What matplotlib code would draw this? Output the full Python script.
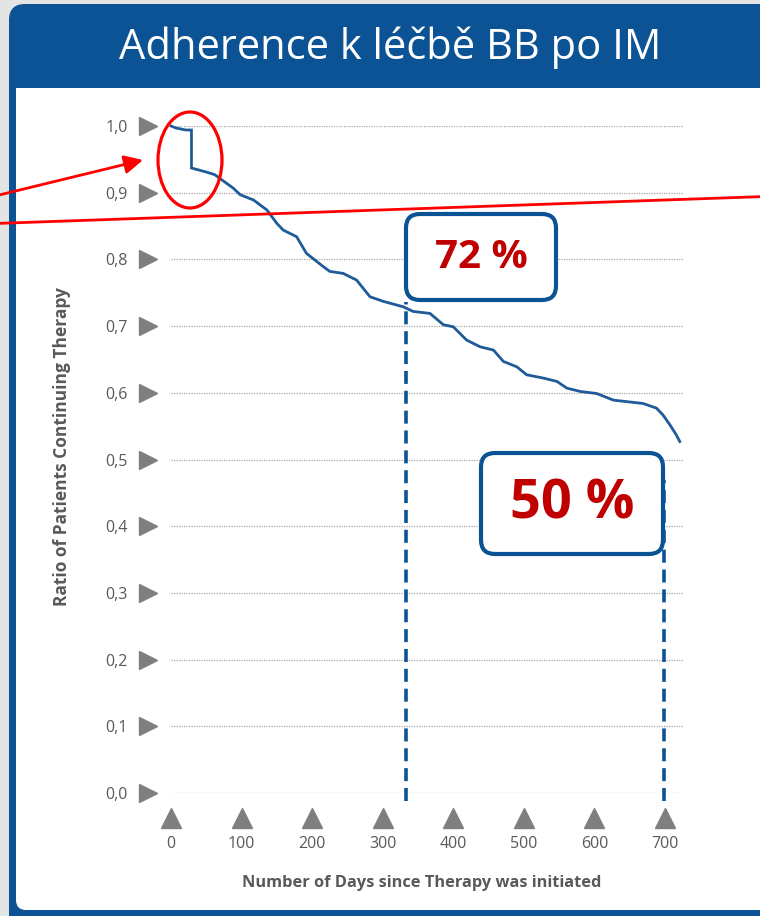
import matplotlib
matplotlib.use("Agg")
import matplotlib.pyplot as plt
from matplotlib.patches import FancyBboxPatch, Ellipse, Rectangle

plt.rcParams["font.family"] = ["Open Sans", "DejaVu Sans"]

# curve (the drop at day 29 is listed twice)
days = [0, 7, 21, 29, 29, 50, 62, 88, 98, 117, 136, 150, 159, 178, 192, 216, 225,
        244, 263, 282, 301, 329, 343, 367, 386, 400, 419, 438, 457, 471, 490,
        504, 528, 547, 561, 580, 603, 627, 669, 688, 697, 707, 716, 721]
ratio = [1.000, 0.997, 0.994, 0.994, 0.937, 0.931, 0.927, 0.907, 0.897, 0.889, 0.874,
         0.854, 0.844, 0.834, 0.809, 0.789, 0.782, 0.779, 0.769, 0.744, 0.737,
         0.729, 0.722, 0.719, 0.702, 0.699, 0.679, 0.669, 0.664, 0.647, 0.639,
         0.627, 0.622, 0.617, 0.607, 0.602, 0.599, 0.589, 0.584, 0.577, 0.567,
         0.552, 0.537, 0.527]

y_ticks = [0.0, 0.1, 0.2, 0.3, 0.4, 0.5, 0.6, 0.7, 0.8, 0.9, 1.0]
y_labels = ["0,0", "0,1", "0,2", "0,3", "0,4", "0,5", "0,6", "0,7", "0,8", "0,9", "1,0"]
x_ticks = [0, 100, 200, 300, 400, 500, 600, 700]

# dashed reference lines and their callouts
marker_days = [333, 699]
marker_tops = [0.736, 0.47]
callouts = ["72 %", "50 %"]

blue = "#0b5394"
gray_txt = "#595959"
gray_tri = "#7f7f7f"

fig = plt.figure(figsize=(7.6, 9.16), dpi=100)
fig.patch.set_facecolor("#e4e4e4")

# background panel
bg = fig.add_axes([0, 0, 1, 1], zorder=0)
bg.set_xlim(0, 760)
bg.set_ylim(916, 0)
bg.axis("off")
bg.add_patch(FancyBboxPatch((9, 4), 820, 930, boxstyle="round,pad=0,rounding_size=16",
                            fc=blue, ec="none"))
bg.add_patch(FancyBboxPatch((16, 88), 820, 822, boxstyle="round,pad=0,rounding_size=10",
                            fc="white", ec="none"))
bg.add_patch(Rectangle((16, 88), 820, 40, fc="white", ec="none"))
bg.text(390, 48, "Adherence k léčbě BB po IM", color="white", fontsize=30,
        ha="center", va="center")

# main chart
ax = fig.add_axes([171 / 760, 123 / 916, 511.6 / 760, 667 / 916], zorder=1)
ax.patch.set_visible(False)
ax.set_xlim(0, 725)
ax.set_ylim(0, 1.0)
for s in ax.spines.values():
    s.set_visible(False)

ax.set_yticks(y_ticks)
ax.set_yticklabels(y_labels)
ax.set_xticks(x_ticks)
ax.tick_params(axis="y", length=0, pad=31, labelsize=11.5, labelcolor=gray_txt)
ax.tick_params(axis="x", length=0, pad=31, labelsize=11.5, labelcolor=gray_txt)
ax.yaxis.grid(True, linestyle=(0, (1, 1)), color="#a6a6a6", lw=0.9)
ax.xaxis.grid(False)

# triangle tick marks
ax.plot([-0.045] * len(y_ticks), y_ticks, ">", ms=13, color=gray_tri,
        transform=ax.get_yaxis_transform(), clip_on=False)
ax.plot(x_ticks, [-0.0375] * len(x_ticks), "^", ms=14, color=gray_tri,
        transform=ax.get_xaxis_transform(), clip_on=False)

ax.plot(days, ratio, color="#1f5b98", lw=2.0, solid_joinstyle="miter",
        clip_on=False, zorder=3)

ax.vlines(marker_days, -0.012, marker_tops, colors=blue, lw=2.6,
          linestyles=[(0, (3.6, 1.9))], clip_on=False, zorder=4)

ax.text(-0.213, 0.52, "Ratio of Patients Continuing Therapy", transform=ax.transAxes,
        rotation=90, ha="center", va="center", fontsize=12.5, fontweight="bold",
        color=gray_txt)
fig.text(422 / 760, 1 - 883 / 916, "Number of Days since Therapy was initiated",
         ha="center", va="center", fontsize=11.8, fontweight="bold", color=gray_txt)

# overlay annotations
ov = fig.add_axes([0, 0, 1, 1], zorder=3)
ov.set_xlim(0, 760)
ov.set_ylim(916, 0)
ov.axis("off")

ov.add_patch(Ellipse((190, 160), 64, 96, fill=False, ec="red", lw=2.3))
ov.annotate("", xy=(143, 160), xytext=(-5, 196),
            arrowprops=dict(arrowstyle="-|>", color="red", lw=2.0,
                            mutation_scale=28, shrinkA=0, shrinkB=0))
ov.plot([-5, 765], [223.5, 196.5], color="red", lw=2.0)

boxes = [(406, 214, 150, 86, 29), (481, 453, 182, 101, 39)]
for (bx, by, bw, bh, fs), label in zip(boxes, callouts):
    ov.add_patch(FancyBboxPatch((bx, by), bw, bh, boxstyle="round,pad=0,rounding_size=14",
                                fc="white", ec=blue, lw=3))
    ov.text(bx + bw / 2, by + bh / 2 + 1, label, color="#c00000", fontsize=fs,
            fontweight="bold", ha="center", va="center")

fig.savefig("out.png", dpi=100)
